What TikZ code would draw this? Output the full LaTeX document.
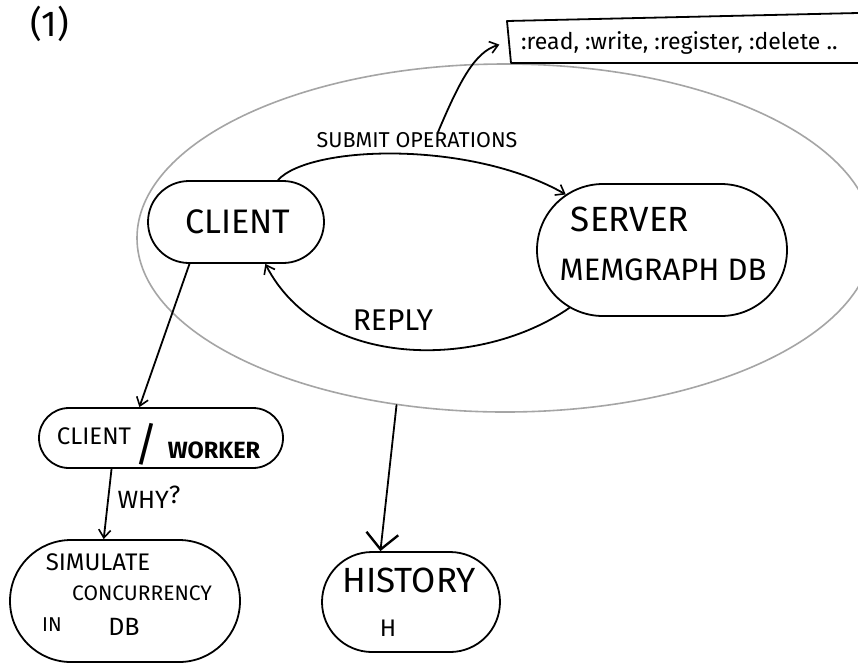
\documentclass[tikz,border=0pt]{standalone}
\usepackage{fontspec}
\setmainfont{Fira Sans}
\usetikzlibrary{shapes.geometric,shapes.misc,arrows.meta}

\definecolor{sysgray}{RGB}{165,165,165}

\tikzset{
  pen/.style={line width=1.8pt, line cap=round, line join=round},
  blob/.style={pen, draw=black, rounded rectangle, inner sep=0pt},
  lbl/.style={inner sep=0pt, text=black},
  flow/.style={pen, -{Straight Barb[length=8pt,width=12pt,line width=1.6pt]}},
  bigflow/.style={pen, -{Straight Barb[length=16pt,width=32pt,line width=2.4pt]}},
}
\newcommand{\fs}[1]{\fontsize{#1}{#1}\selectfont}

\begin{document}
\begin{tikzpicture}[x=1pt,y=-1pt]
  \useasboundingbox (0,0) rectangle (858,665);
  \fill[white] (0,0) rectangle (858,665);

  % figure number
  \node[lbl] (num) at (50,24) {\fs{36}(1)};

  % system boundary around client and server
  \node[ellipse, draw=sysgray, line width=1.6pt, minimum width=736, minimum height=348]
    (sys) at (505,238) {};

  % main actors
  \node[blob, minimum width=176, minimum height=82] (client) at (236,222) {};
  \node[lbl] (clienttxt) at (238,222) {\fs{34}CLIENT};

  \node[blob, minimum width=250, minimum height=132] (server) at (662,250) {};
  \node[lbl] (servertxt) at (630,219) {\fs{35}SERVER};
  \node[lbl] (dbtxt) at (663,270) {\fs{31}MEMGRAPH DB};

  % operation list, open to the right
  \coordinate (opsbox) at (508,42);
  \draw[pen] (858,13) -- (507,21) -- (511,63) -- (858,63);
  \node[lbl, anchor=west] (opstxt) at (521,43)
    {\fs{23}:read, :write, :register, :delete ..};

  % submit / reply
  \draw[flow] (client.45) .. controls (310,145) and (470,140) .. (server.150);
  \node[lbl] (submitlbl) at (417,140) {\fs{21.5}SUBMIT OPERATIONS};
  \draw[flow, shorten >=9pt] ([xshift=21pt]submitlbl.north)
    .. controls (460,80) and (475,52) .. (opsbox);

  \draw[flow] (server.212) .. controls (480,370) and (320,370) .. (client.-55);
  \node[lbl] (replylbl) at (393,320) {\fs{30}REPLY};

  % client / worker
  \node[blob, minimum width=244, minimum height=60] (worker) at (161,438) {};
  \node[lbl] (cw1) at (94,436) {\fs{24}CLIENT};
  \node[lbl] (cwslash) at (146,444) {\fs{46}/};
  \node[lbl] (cw2) at (214,450) {\fs{23.5}\bfseries WORKER};
  \draw[flow] (client.-138) -- (worker.125);

  % concurrency
  \node[blob, minimum width=230, minimum height=122] (sim) at (125,601) {};
  \node[lbl] (sim1) at (98,562) {\fs{24}SIMULATE};
  \node[lbl] (sim2) at (142,593) {\fs{21}CONCURRENCY};
  \node[lbl] (sim3) at (52,625) {\fs{20}IN};
  \node[lbl] (sim4) at (124,627) {\fs{25}DB};
  \draw[flow] (worker.-148) -- (sim.109);
  \node[lbl] (whylbl) at (149,497) {\fs{25}WHY\raisebox{5pt}{?}};

  % history
  \node[blob, minimum width=178, minimum height=100] (hist) at (411,602) {};
  \node[lbl] (hist1) at (409,580) {\fs{35}HISTORY};
  \node[lbl] (hist2) at (388,628) {\fs{24}H};
  \draw[bigflow] (sys.-123.5) -- (hist.121);
\end{tikzpicture}
\end{document}
